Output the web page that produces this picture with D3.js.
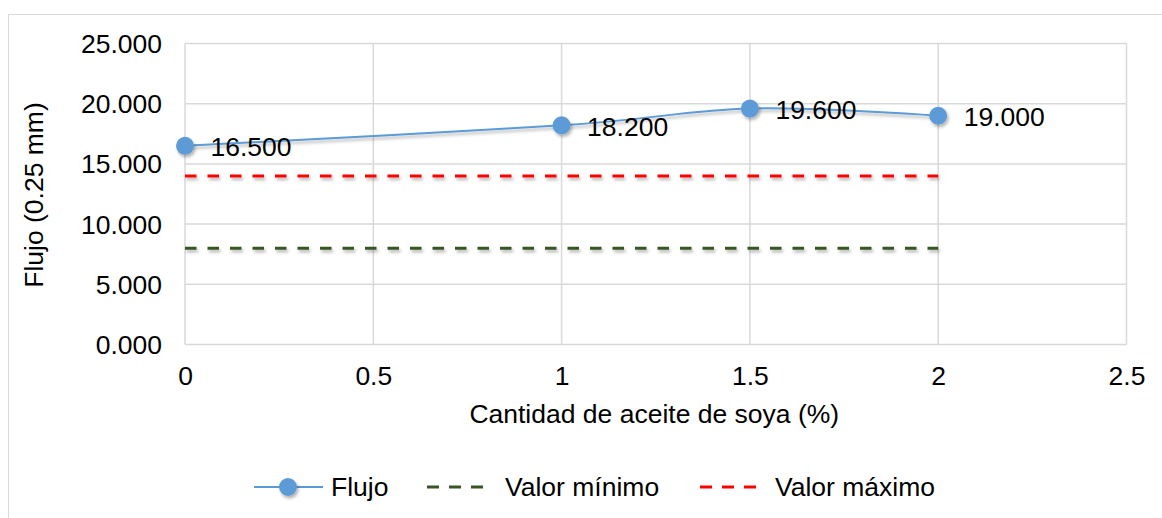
<!DOCTYPE html>
<html>
<head>
<meta charset="utf-8">
<script src="https://cdn.jsdelivr.net/npm/d3@7"></script>
<style>
  html, body { margin: 0; padding: 0; background: #fff; }
  svg { display: block; font-family: Arial, "Liberation Sans", sans-serif; }
</style>
</head>
<body>
<svg id="chart" width="1162" height="518"></svg>
<script>
// Flow values by soybean oil content
const aceite = [0, 1, 1.5, 2];
const flujo = [16.5, 18.2, 19.6, 19.0];
const valorMinimo = [8, 8, 8, 8];
const valorMaximo = [14, 14, 14, 14];
const xTicks = [0, 0.5, 1, 1.5, 2, 2.5];
const yTicks = [0, 5, 10, 15, 20, 25];

const FONT = "Arial, 'Liberation Sans', sans-serif";
const FS = 26.5;

const svg = d3.select("#chart");
const m = { left: 185, right: 1126.5, top: 43.5, bottom: 344.5 };

const x = d3.scaleLinear().domain([0, 2.5]).range([m.left, m.right]);
const y = d3.scaleLinear().domain([0, 25]).range([m.bottom, m.top]);

// soft drop shadow used by the series marks
const defs = svg.append("defs");
const sh = defs.append("filter").attr("id", "shadow")
  .attr("filterUnits", "userSpaceOnUse")
  .attr("x", 0).attr("y", 0).attr("width", 1162).attr("height", 518);
sh.append("feDropShadow").attr("dx", 1.5).attr("dy", 2.5)
  .attr("stdDeviation", 1.8).attr("flood-color", "#000").attr("flood-opacity", 0.3);

// chart frame
svg.append("rect").attr("x", 8.5).attr("y", 14.5).attr("width", 1170).attr("height", 520)
  .attr("fill", "#fff").attr("stroke", "#D9D9D9").attr("stroke-width", 1);

// gridlines
const grid = svg.append("g").attr("stroke", "#D9D9D9").attr("stroke-width", 1.5);
grid.selectAll("line.h").data(yTicks).join("line").attr("class", "h")
  .attr("x1", m.left).attr("x2", m.right)
  .attr("y1", d => y(d)).attr("y2", d => y(d));
grid.selectAll("line.v").data(xTicks).join("line").attr("class", "v")
  .attr("y1", m.top).attr("y2", m.bottom)
  .attr("x1", d => x(d)).attr("x2", d => x(d));

// axes (labels only)
const fmtY = d3.format(".3f");
const yAxis = svg.append("g").attr("transform", `translate(${m.left},0)`)
  .call(d3.axisLeft(y).tickValues(yTicks).tickFormat(fmtY).tickSize(0).tickPadding(23));
const xAxis = svg.append("g").attr("transform", `translate(0,${m.bottom})`)
  .call(d3.axisBottom(x).tickValues(xTicks).tickFormat(d => String(d)).tickSize(0).tickPadding(21.5));
[yAxis, xAxis].forEach(a => {
  a.select(".domain").remove();
  a.attr("font-family", FONT).attr("font-size", FS);
  a.selectAll("text").attr("fill", "#000");
});
yAxis.selectAll("text").attr("dy", "0.34em");

// axis titles
svg.append("text").attr("x", (m.left + m.right) / 2 - 1.5).attr("y", 423)
  .attr("text-anchor", "middle").attr("font-size", FS).attr("fill", "#000")
  .text("Cantidad de aceite de soya (%)");
svg.append("text").attr("transform", `translate(43,${(m.top + m.bottom) / 2 + 1}) rotate(-90)`)
  .attr("text-anchor", "middle").attr("font-size", FS).attr("fill", "#000")
  .text("Flujo (0.25 mm)");

// reference lines
const refLine = d3.line().x((d, i) => x(aceite[i])).y(d => y(d));
svg.append("path").datum(valorMinimo).attr("d", refLine)
  .attr("fill", "none").attr("stroke", "#375623").attr("stroke-width", 3)
  .attr("stroke-dasharray", "11.5,11").attr("filter", "url(#shadow)");
svg.append("path").datum(valorMaximo).attr("d", refLine)
  .attr("fill", "none").attr("stroke", "#FF0000").attr("stroke-width", 3)
  .attr("stroke-dasharray", "11.5,11").attr("filter", "url(#shadow)");

// flow series, smoothed
const smooth = d3.line().x((d, i) => x(aceite[i])).y(d => y(d)).curve(d3.curveCardinal.tension(0));
svg.append("path").datum(flujo).attr("d", smooth)
  .attr("fill", "none").attr("stroke", "#5B9BD5").attr("stroke-width", 2)
  .attr("filter", "url(#shadow)");
svg.selectAll("circle.pt").data(flujo).join("circle").attr("class", "pt")
  .attr("cx", (d, i) => x(aceite[i])).attr("cy", d => y(d)).attr("r", 9)
  .attr("fill", "#5B9BD5").attr("filter", "url(#shadow)");

// data labels
svg.selectAll("text.lbl").data(flujo).join("text").attr("class", "lbl")
  .attr("x", (d, i) => x(aceite[i]) + 25.5).attr("y", d => y(d) + 1)
  .attr("dy", "0.35em").attr("font-size", FS).attr("fill", "#000")
  .text(d => fmtY(d));

// legend
const lg = svg.append("g").attr("font-size", FS).attr("fill", "#000");
const ly = 487;
lg.append("line").attr("x1", 254).attr("x2", 323).attr("y1", ly).attr("y2", ly)
  .attr("stroke", "#5B9BD5").attr("stroke-width", 2);
lg.append("circle").attr("cx", 288).attr("cy", ly).attr("r", 9).attr("fill", "#5B9BD5")
  .attr("filter", "url(#shadow)");
lg.append("text").attr("x", 331).attr("y", ly).attr("dy", "0.35em").text("Flujo");
lg.append("line").attr("x1", 427).attr("x2", 484).attr("y1", ly).attr("y2", ly)
  .attr("stroke", "#375623").attr("stroke-width", 3).attr("stroke-dasharray", "12,10");
lg.append("text").attr("x", 505).attr("y", ly).attr("dy", "0.35em").text("Valor mínimo");
lg.append("line").attr("x1", 700).attr("x2", 757).attr("y1", ly).attr("y2", ly)
  .attr("stroke", "#FF0000").attr("stroke-width", 3).attr("stroke-dasharray", "12,10");
lg.append("text").attr("x", 775).attr("y", ly).attr("dy", "0.35em").text("Valor máximo");
</script>
</body>
</html>
